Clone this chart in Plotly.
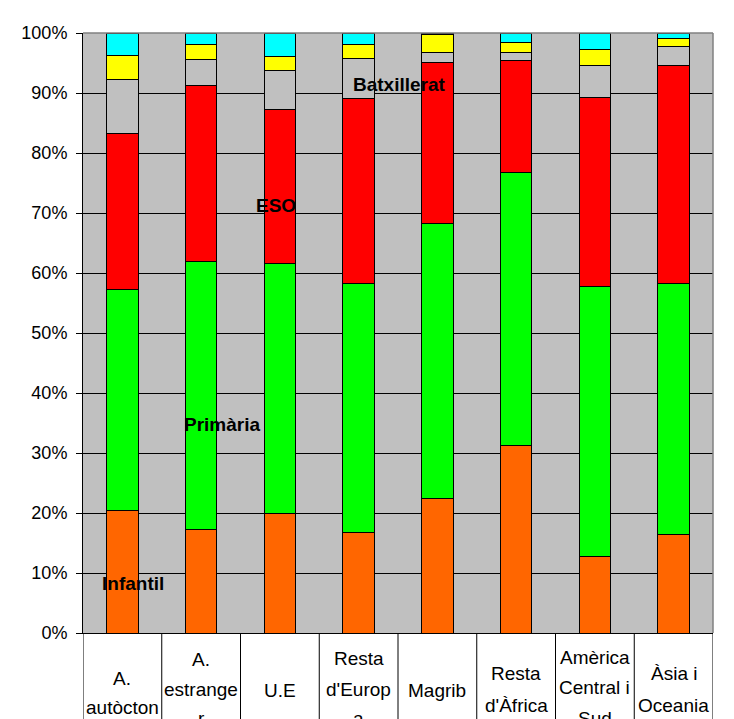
import plotly.graph_objects as go

categories = ["A. autòctons", "A. estrangers", "U.E", "Resta d'Europa", "Magrib",
              "Resta d'Àfrica", "Amèrica Central i Sud", "Àsia i Oceania"]
category_lines = [["A.", "autòcton", "s"], ["A.", "estrange", "r"], ["U.E"],
                  ["Resta", "d'Europ", "a"], ["Magrib"], ["Resta", "d'Àfrica"],
                  ["Amèrica", "Central i", "Sud"], ["Àsia i", "Oceania"]]

infantil = [20.5, 17.2, 19.9, 16.8, 22.4, 31.3, 12.7, 16.4]
primaria = [36.7, 44.7, 41.7, 41.5, 45.9, 45.4, 45.1, 41.9]
eso = [26.0, 29.4, 25.6, 30.8, 26.8, 18.7, 31.6, 36.4]
batxillerat = [9.1, 4.3, 6.5, 6.8, 1.8, 1.4, 5.2, 3.2]
cicles = [3.9, 2.5, 2.4, 2.3, 2.9, 1.7, 2.7, 1.2]
altres = [3.8, 2.0, 3.9, 1.9, 0.3, 1.5, 2.8, 1.0]

series_names = ["Infantil", "Primària", "ESO", "Batxillerat", "Cicles formatius", "Altres"]
series_values = [infantil, primaria, eso, batxillerat, cicles, altres]
series_colors = ["#FF6600", "#00FF00", "#FF0000", "#C0C0C0", "#FFFF00", "#00FFFF"]
y_ticks = [0, 10, 20, 30, 40, 50, 60, 70, 80, 90, 100]

NARROW = "Liberation Sans Narrow, Arial Narrow, Liberation Sans, Arial, sans-serif"
ARIAL = "Liberation Sans, Arial, sans-serif"

x_idx = list(range(len(categories)))
fig = go.Figure()
for name, vals, col in zip(series_names, series_values, series_colors):
    fig.add_trace(go.Bar(x=x_idx, y=vals, name=name,
                         marker=dict(color=col, line=dict(color="black", width=1))))

fig.update_layout(
    barmode="stack", barnorm="percent", bargap=0.6,
    width=726, height=711,
    margin=dict(l=75, r=21, t=25, b=86),
    paper_bgcolor="white", plot_bgcolor="#C0C0C0",
    showlegend=False,
    font=dict(family=ARIAL, color="black", size=18),
)
fig.update_xaxes(range=[-0.5, len(categories) - 0.5], showticklabels=False,
                 showgrid=False, zeroline=False, showline=True, linecolor="black",
                 linewidth=1, ticks="")
fig.update_yaxes(range=[0, 100], tickvals=y_ticks,
                 ticktext=[f"{v}%" for v in y_ticks],
                 showgrid=True, gridcolor="black", gridwidth=1, zeroline=False,
                 showline=True, linecolor="black", linewidth=1,
                 ticks="outside", ticklen=6, tickcolor="black",
                 ticklabelstandoff=5,
                 tickfont=dict(family=ARIAL, size=18, color="black"))

# plot-area border (right and top in grey)
fig.add_shape(type="line", xref="paper", yref="paper", x0=1, x1=1, y0=0, y1=1,
              line=dict(color="#808080", width=1.5))
fig.add_shape(type="line", xref="paper", yref="paper", x0=0, x1=1, y0=1, y1=1,
              line=dict(color="#808080", width=1.5))

# category separators below the axis
for k in range(len(categories) + 1):
    fig.add_shape(type="line", xref="x", yref="paper", x0=k - 0.5, x1=k - 0.5,
                  y0=0, y1=-0.2, line=dict(color="black", width=1))

# category labels (wrapped lines); y positions in screenshot pixels
line_y_px = {
    0: [678, 707, 736],
    1: [659, 689, 718],
    2: [690],
    3: [658, 689, 718],
    4: [690],
    5: [673, 705],
    6: [657, 688, 718],
    7: [673, 705],
}
plot_top, plot_h = 33, 600
for i, lines in enumerate(category_lines):
    for j, txt in enumerate(lines):
        py = line_y_px[i][j]
        fig.add_annotation(x=i, xref="x", y=(plot_top + plot_h - py) / plot_h,
                           yref="paper", text=txt, showarrow=False,
                           xanchor="center", yanchor="middle",
                           font=dict(family=NARROW, size=19, color="black"))

# series name labels
label_pos = [("Infantil", 0.079, 8.2), ("Primària", 0.221, 34.7), ("ESO", 0.306, 71.2),
             ("Batxillerat", 0.503, 91.4), ("Cicles formatius", 0.9, 102.6)]
for txt, px, py in label_pos:
    fig.add_annotation(x=px, xref="paper", y=py, yref="y", text=f"<b>{txt}</b>",
                       showarrow=False, xanchor="center", yanchor="middle",
                       font=dict(family=NARROW, size=19, color="black"))

fig.write_html("out.html")
